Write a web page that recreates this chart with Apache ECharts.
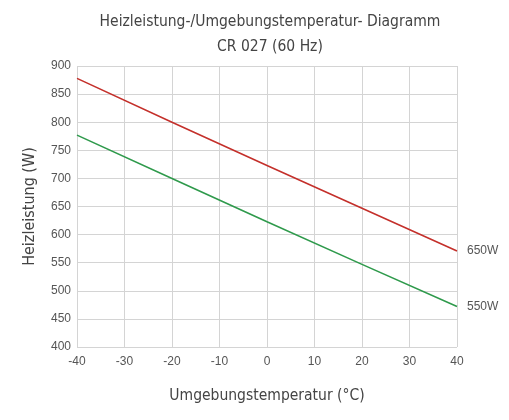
<!DOCTYPE html>
<html>
<head>
<meta charset="utf-8">
<script src="https://cdn.jsdelivr.net/npm/echarts@6/dist/echarts.min.js"></script>
<style>
  html, body { margin: 0; padding: 0; background: #fff; }
  #chart { width: 509px; height: 420px; }
</style>
</head>
<body>
<div id="chart"></div>
<script>
// Heizleistung über Umgebungstemperatur
var temps = [-40, -20, 0, 20, 40];
var heat650 = [878, 800, 723, 647, 571];
var heat550 = [777, 700, 623, 547, 472];
var seriesNames = ['650W', '550W'];
var lineColors = ['#c4302b', '#2f9a4c'];

var chart = echarts.init(document.getElementById('chart'));

function pairs(xs, ys) {
  return xs.map(function (x, i) { return [x, ys[i]]; });
}

var tickFont = {
  fontFamily: 'Liberation Sans',
  fontSize: 12,
  color: '#555'
};

var option = {
  backgroundColor: '#fff',
  title: {
    text: 'Heizleistung-/Umgebungstemperatur- Diagramm\nCR 027 (60 Hz)',
    left: 265,
    textAlign: 'center',
    top: 4,
    textStyle: {
      fontFamily: 'DejaVu Sans Condensed',
      fontWeight: 'normal',
      fontSize: 15.5,
      lineHeight: 25,
      color: '#444'
    }
  },
  grid: {
    left: 77,
    right: 52,
    top: 66,
    bottom: 73
  },
  xAxis: {
    type: 'value',
    min: -40,
    max: 40,
    interval: 10,
    name: 'Umgebungstemperatur (°C)',
    nameLocation: 'middle',
    nameGap: 41,
    nameTextStyle: {
      fontFamily: 'DejaVu Sans Condensed',
      fontSize: 15.5,
      color: '#444'
    },
    axisLine: { show: false },
    axisTick: { show: false },
    axisLabel: Object.assign({ margin: 9 }, tickFont),
    splitLine: { lineStyle: { color: '#d4d4d4', width: 1 } }
  },
  yAxis: {
    type: 'value',
    min: 400,
    max: 900,
    interval: 50,
    name: 'Heizleistung (W)',
    nameLocation: 'middle',
    nameGap: 39,
    nameTextStyle: {
      fontFamily: 'DejaVu Sans Condensed',
      fontSize: 16,
      color: '#444'
    },
    axisLine: { show: false },
    axisTick: { show: false },
    axisLabel: Object.assign({ margin: 6 }, tickFont),
    splitLine: { lineStyle: { color: '#d4d4d4', width: 1 } }
  },
  series: [heat650, heat550].map(function (ys, i) {
    return {
      name: seriesNames[i],
      type: 'line',
      data: pairs(temps, ys),
      symbol: 'none',
      lineStyle: { color: lineColors[i], width: 1.6 },
      endLabel: Object.assign({
        show: true,
        formatter: seriesNames[i],
        distance: 10
      }, tickFont)
    };
  })
};

chart.setOption(option);
</script>
</body>
</html>
